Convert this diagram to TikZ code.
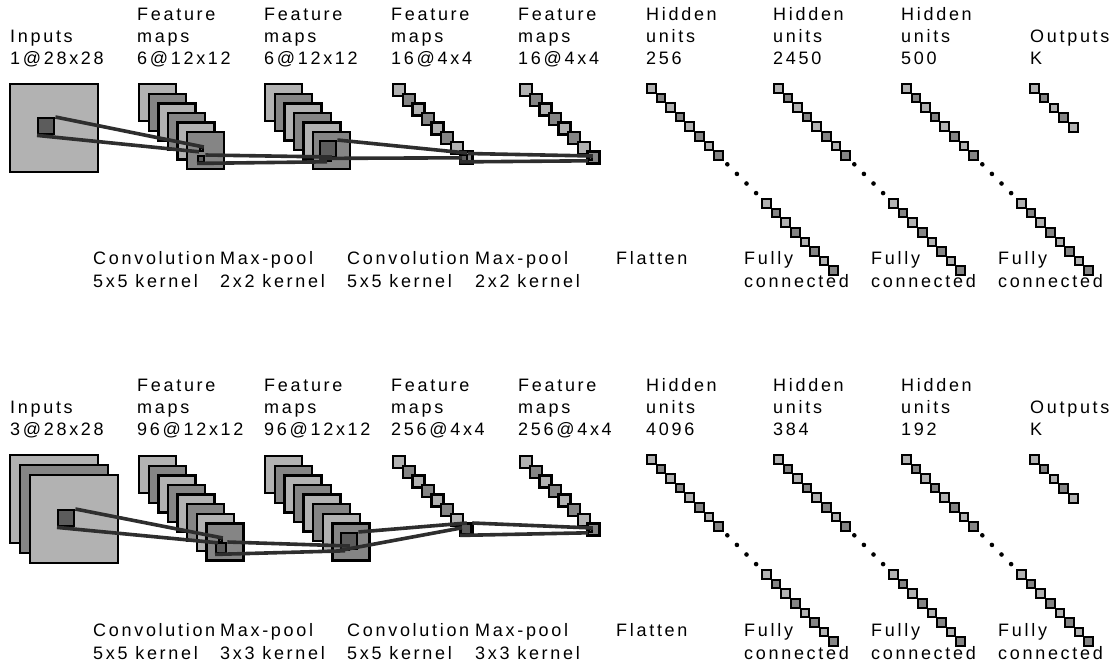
\documentclass[tikz,border=0pt]{standalone}
\usepackage{fontspec}
\usepackage{tikz}
\usetikzlibrary{positioning}
\newfontfamily\lblfont[LetterSpace=15]{Liberation Sans}
\definecolor{lite}{gray}{0.70}
\definecolor{dark}{gray}{0.52}
\definecolor{kern}{gray}{0.36}
\definecolor{wire}{gray}{0.18}
\newcommand{\fLbl}{\fontsize{18}{21}\lblfont}
\newcommand{\sqchain}[6]{%
  \foreach \i in {1,...,#4}{%
    \ifodd\i\def\sqcol{lite}\else\def\sqcol{dark}\fi
    \node[sq,fill=\sqcol,minimum size=#5] (#1-\i) at ({#2+(\i-1)*#6},{#3+(\i-1)*#6}) {};
  }}
\newcommand{\hidden}[3]{%
  \foreach \i in {1,...,8,13,14,...,20}{%
    \ifodd\i\def\sqcol{lite}\else\def\sqcol{dark}\fi
    \node[sq,unit,fill=\sqcol] (#1-\i) at ({#2+(\i-1)*9.6},{#3+(\i-1)*9.6}) {};
  }
  \foreach \i in {9,...,12}
    \fill ({#2+(\i-1)*9.6+4.5},{#3+(\i-1)*9.6+4.5}) circle (2.3);
}

\begin{document}
\begin{tikzpicture}[x=1pt,y=-1pt,
  sq/.style={draw=black,line width=2.4pt,inner sep=0pt,anchor=north west},
  unit/.style={line width=1.9pt,minimum size=8.6},
  kernel/.style={sq,fill=kern},
  tgt/.style={sq,fill=kern,line width=1.8pt,minimum size=3},
  wire/.style={draw=wire,line width=3.6pt},
  lbl/.style={anchor=base west,inner sep=0pt,font=\fLbl}]
  \useasboundingbox (0,0) rectangle (1118,665);

  \sqchain{in1}{9}{83}{1}{88}{10}
  \sqchain{fa1}{138}{83}{6}{37}{9.6}
  \sqchain{fb1}{264}{83}{6}{37}{9.6}
  \sqchain{fc1}{392}{83}{8}{12}{9.6}
  \sqchain{fd1}{519}{83}{8}{12}{9.6}
  \hidden{ha1}{646}{83}
  \hidden{hb1}{773}{83}
  \hidden{hc1}{901}{83}
  \foreach \i in {1,...,5}{%
    \ifodd\i\def\sqcol{lite}\else\def\sqcol{dark}\fi
    \node[sq,unit,fill=\sqcol] (out1-\i) at ({1029+(\i-1)*9.8},{83+(\i-1)*9.8}) {};
  }

  \sqchain{in2}{9}{454}{3}{88}{10}
  \sqchain{fa2}{138}{455}{8}{37}{9.6}
  \sqchain{fb2}{264}{455}{8}{37}{9.6}
  \sqchain{fc2}{392}{455}{8}{12}{9.6}
  \sqchain{fd2}{519}{455}{8}{12}{9.6}
  \hidden{ha2}{646}{454}
  \hidden{hb2}{773}{454}
  \hidden{hc2}{901}{454}
  \foreach \i in {1,...,5}{%
    \ifodd\i\def\sqcol{lite}\else\def\sqcol{dark}\fi
    \node[sq,unit,fill=\sqcol] (out2-\i) at ({1029+(\i-1)*9.8},{454+(\i-1)*9.8}) {};
  }

  \node[kernel,minimum size=16] (cv1) at (37,117) {};
  \node[tgt] (cv1t) at (199,147) {};
  \node[kernel,minimum size=6] (mp1) at (197,155) {};
  \node[tgt] (mp1t) at (327,157) {};
  \node[kernel,minimum size=16] (cv2) at (319,140) {};
  \node[tgt] (cv2t) at (462,153) {};
  \node[kernel,minimum size=6] (mp2) at (459.5,153.5) {};
  \node[tgt] (mp2t) at (588,156) {};

  \node[kernel,minimum size=16] (cv3) at (57,509) {};
  \node[tgt] (cv3t) at (218,538) {};
  \node[kernel,minimum size=10] (mp3) at (215,542) {};
  \node[tgt] (mp3t) at (345,546) {};
  \node[kernel,minimum size=16] (cv4) at (340,532) {};
  \node[tgt] (cv4t) at (462,523) {};
  \node[kernel,minimum size=10] (mp4) at (460,523) {};
  \node[tgt] (mp4t) at (588,528) {};

  \foreach \k in {cv1,mp1,cv2,mp2,cv3,mp3,cv4,mp4}{
    \draw[wire] (\k.north east) -- (\k t.north east);
    \draw[wire] (\k.south west) -- (\k t.south west);
  }

  \node[lbl] (in1a) at (10,42) {Inputs};
  \node[lbl] (in1b) at (10,64) {1@28x28};
  \foreach \x/\a/\b/\c [count=\n] in {137/Feature/maps/6@12x12,264/Feature/maps/6@12x12,391/Feature/maps/16@4x4,518/Feature/maps/16@4x4,646/Hidden/units/256,773/Hidden/units/2450,901/Hidden/units/500}{
    \node[lbl] (t1h\n a) at (\x,20) {\a};
    \node[lbl] (t1h\n b) at (\x,42) {\b};
    \node[lbl] (t1h\n c) at (\x,64) {\c};
  }
  \node[lbl] (out1a) at (1030,42) {Outputs};
  \node[lbl] (out1b) at (1030,64) {K};
  \foreach \x/\a/\b [count=\n] in {93/Convolution/5x5 kernel,220/Max-pool/2x2 kernel,347/Convolution/5x5 kernel,475/Max-pool/2x2 kernel,744/Fully/connected,871/Fully/connected,998/Fully/connected}{
    \node[lbl] (b1o\n a) at (\x,264) {\a};
    \node[lbl] (b1o\n b) at (\x,287) {\b};
  }
  \node[lbl] (fl1) at (616,264) {Flatten};

  \node[lbl] (in2a) at (10,413) {Inputs};
  \node[lbl] (in2b) at (10,435) {3@28x28};
  \foreach \x/\a/\b/\c [count=\n] in {137/Feature/maps/96@12x12,264/Feature/maps/96@12x12,391/Feature/maps/256@4x4,518/Feature/maps/256@4x4,646/Hidden/units/4096,773/Hidden/units/384,901/Hidden/units/192}{
    \node[lbl] (t2h\n a) at (\x,391) {\a};
    \node[lbl] (t2h\n b) at (\x,413) {\b};
    \node[lbl] (t2h\n c) at (\x,435) {\c};
  }
  \node[lbl] (out2a) at (1030,413) {Outputs};
  \node[lbl] (out2b) at (1030,435) {K};
  \foreach \x/\a/\b [count=\n] in {93/Convolution/5x5 kernel,220/Max-pool/3x3 kernel,347/Convolution/5x5 kernel,475/Max-pool/3x3 kernel,744/Fully/connected,871/Fully/connected,998/Fully/connected}{
    \node[lbl] (b2o\n a) at (\x,636) {\a};
    \node[lbl] (b2o\n b) at (\x,659) {\b};
  }
  \node[lbl] (fl2) at (616,636) {Flatten};
\end{tikzpicture}
\end{document}
